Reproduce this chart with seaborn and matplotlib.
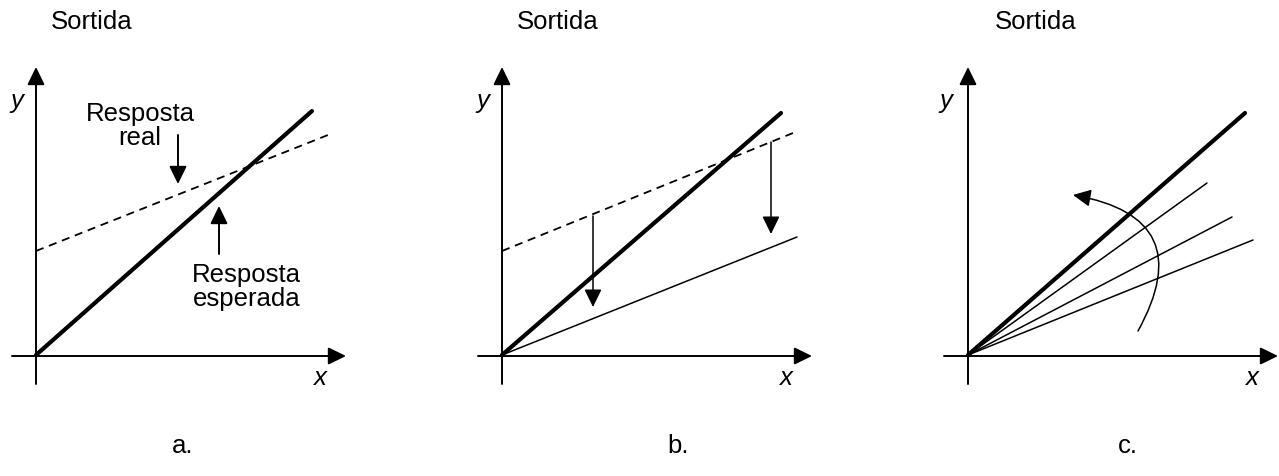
import matplotlib
matplotlib.use("Agg")
import matplotlib.pyplot as plt
import seaborn as sns
from matplotlib.patches import FancyArrowPatch

# dades (unitats arbitraries, origen a (0, 0))
panells = ["a.", "b.", "c."]
origen_px = [36, 502, 968]          # posicio horitzontal de cada origen

# a. resposta esperada vs real
a_esperada_x = [0, 27.6]
a_esperada_y = [0, 24.4]
a_real_x = [0, 29.2]
a_real_y = [10.4, 22.0]

# b. correccio del desplacament
b_esperada_x = [0, 27.9]
b_esperada_y = [0, 24.2]
b_real_x = [0, 29.1]
b_real_y = [10.4, 22.2]
b_corregida_x = [0, 29.5]
b_corregida_y = [0, 11.8]
b_fletxa_x = [9.1, 26.9]
b_fletxa_ini = [13.9, 21.3]
b_fletxa_fi = [4.8, 12.1]

# c. correccio del guany
c_esperada_x = [0, 27.7]
c_esperada_y = [0, 24.2]
c_rectes_x = [23.9, 26.4, 28.5]
c_rectes_y = [17.2, 13.8, 11.5]
c_corba_ini = (17.0, 2.4)
c_corba_fi = (10.5, 16.0)

sns.set_theme(style="white")
plt.rcParams["font.family"] = ["Liberation Sans", "DejaVu Sans"]
plt.rcParams["text.color"] = "black"

W, H = 1279, 477
fig = plt.figure(figsize=(W / 100, H / 100), dpi=100)
escala = 10.0
y0_px = 356
mida = 18.5

def fletxa(ax, x0, y0, x1, y1, lw=1.4, ms=24):
    ax.annotate("", xy=(x1, y1), xytext=(x0, y0),
                arrowprops=dict(arrowstyle="-|>,head_length=0.45,head_width=0.22",
                                color="black", lw=lw, shrinkA=0, shrinkB=0,
                                mutation_scale=ms))

axes = []
for i, ox in enumerate(origen_px):
    ax = fig.add_axes([0, 0, 1, 1])
    ax.patch.set_alpha(0)
    ax.set_xlim(-ox / escala, (W - ox) / escala)
    ax.set_ylim(-(H - y0_px) / escala, y0_px / escala)
    ax.set_axis_off()
    # eixos
    fletxa(ax, 0, -2.9, 0, 28.8)
    fletxa(ax, -2.4, -0.1, 31.0, -0.1)
    ax.text(-1.9 if i < 2 else -2.2, 25.5, "y", fontsize=mida, style="italic",
            ha="center", va="center")
    ax.text(28.3, -2.2, "x", fontsize=mida, style="italic", ha="center", va="center")
    ax.text(5.6 if i < 2 else 6.8, 33.4, "Sortida", fontsize=mida,
            ha="center", va="center")
    ax.text([14.7, 17.6, 16.0][i], -9.0, panells[i], fontsize=mida,
            ha="center", va="center")
    axes.append(ax)

gruix, fi, disc = 3.0, 1.1, 1.3
ax = axes[0]
sns.lineplot(x=a_esperada_x, y=a_esperada_y, ax=ax, color="black", lw=gruix)
sns.lineplot(x=a_real_x, y=a_real_y, ax=ax, color="black", lw=disc,
             linestyle=(0, (4.5, 3.2)))
fletxa(ax, 14.2, 22.0, 14.2, 17.1)
fletxa(ax, 18.3, 10.1, 18.3, 14.9)
ax.text(10.4, 23.0, "Resposta\nreal", fontsize=mida, ha="center", va="center",
        multialignment="center", linespacing=0.95)
ax.text(21.05, 6.9, "Resposta\nesperada", fontsize=mida, ha="center",
        va="center", multialignment="center", linespacing=0.95)

ax = axes[1]
sns.lineplot(x=b_esperada_x, y=b_esperada_y, ax=ax, color="black", lw=gruix)
sns.lineplot(x=b_real_x, y=b_real_y, ax=ax, color="black", lw=disc,
             linestyle=(0, (4.5, 3.2)))
sns.lineplot(x=b_corregida_x, y=b_corregida_y, ax=ax, color="black", lw=fi)
for xf, yi, yf in zip(b_fletxa_x, b_fletxa_ini, b_fletxa_fi):
    fletxa(ax, xf, yi, xf, yf, lw=1.1)

ax = axes[2]
sns.lineplot(x=c_esperada_x, y=c_esperada_y, ax=ax, color="black", lw=gruix)
for xr, yr in zip(c_rectes_x, c_rectes_y):
    sns.lineplot(x=[0, xr], y=[0, yr], ax=ax, color="black", lw=fi)
corba = FancyArrowPatch(c_corba_ini, c_corba_fi,
                        connectionstyle="arc3,rad=0.7",
                        arrowstyle="-|>,head_length=0.45,head_width=0.22",
                        mutation_scale=24, color="black", lw=1.1,
                        shrinkA=0, shrinkB=0)
ax.add_patch(corba)

fig.savefig("out.png", dpi=100)
